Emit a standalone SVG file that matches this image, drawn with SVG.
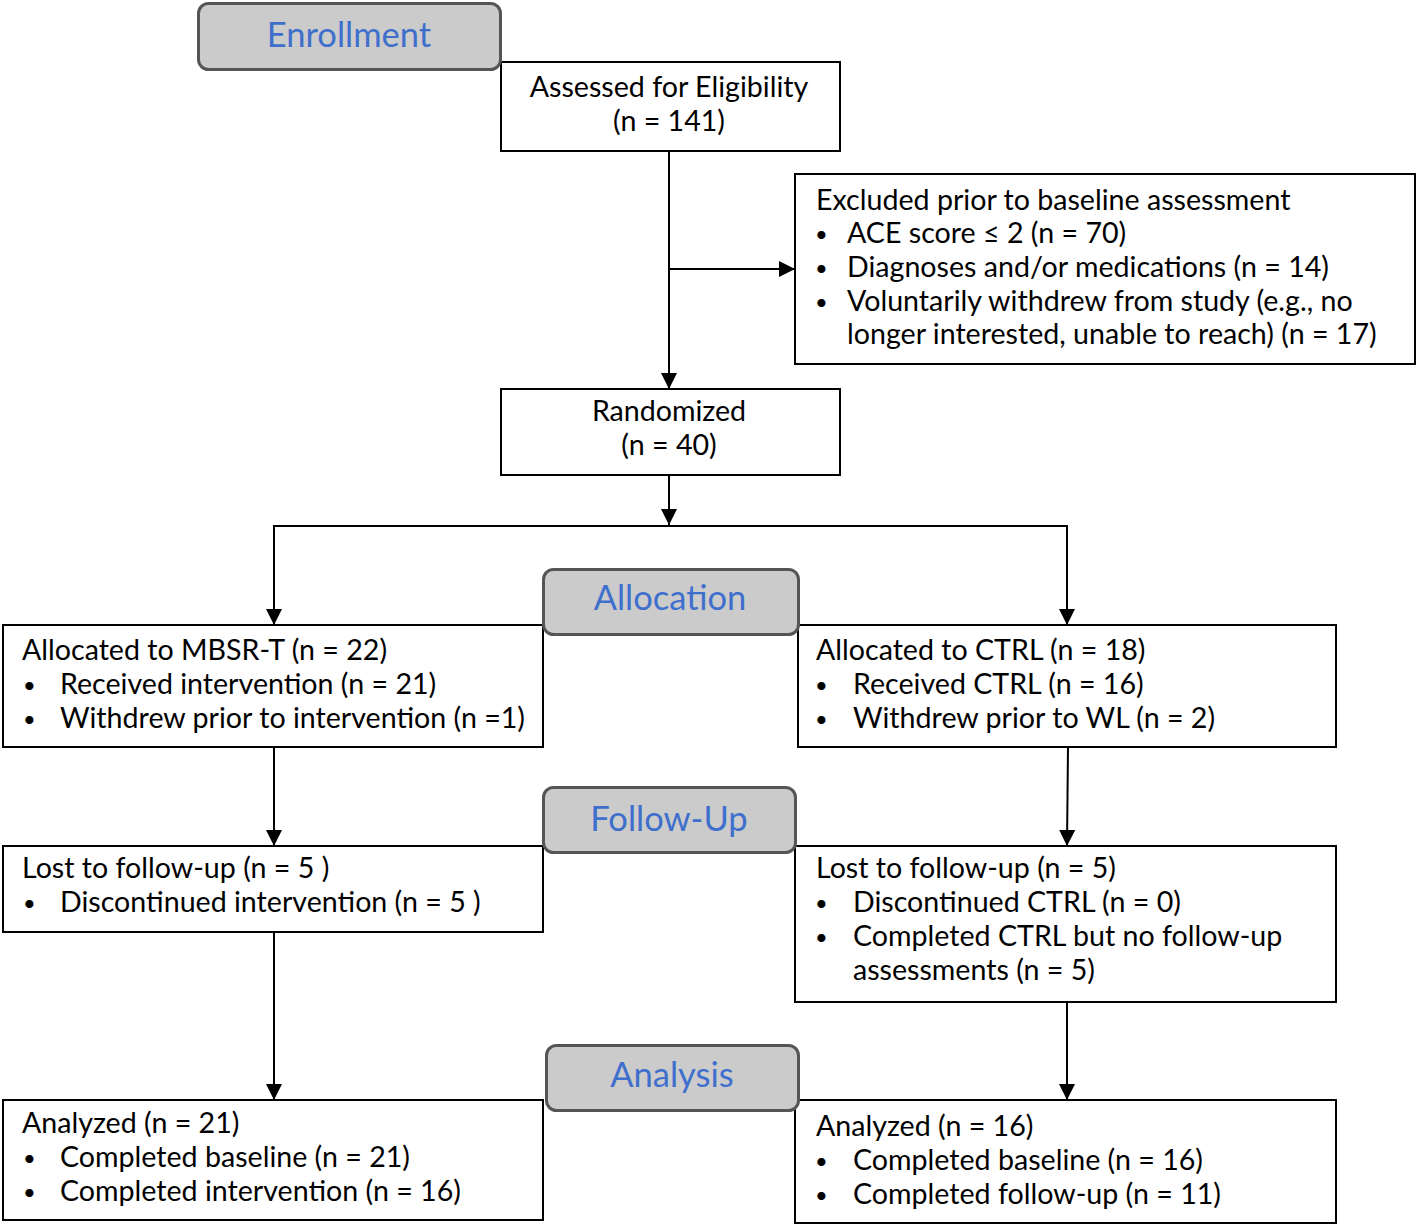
<svg xmlns="http://www.w3.org/2000/svg" width="1418" height="1227" viewBox="0 0 1418 1227">
<style>
.box{fill:#fff;stroke:#000;stroke-width:2}
.hdr{fill:#cbcbcb;stroke:#555;stroke-width:3}
.ht{font-family:Lato,"Noto Sans",sans-serif;font-size:34.5px;fill:#3f6fcd;text-anchor:middle}
.t{font-family:Lato,"Noto Sans",sans-serif;font-size:28.6px;fill:#000}
.b{font-family:Lato,"Noto Sans",sans-serif;font-size:22px;fill:#000}
.c{text-anchor:middle}
.ln{fill:none;stroke:#000;stroke-width:2}
</style>
<defs>
<marker id="ah2" markerWidth="16" markerHeight="16" refX="16" refY="8" orient="auto" markerUnits="userSpaceOnUse" viewBox="0 0 16 16">
<path d="M0,0 L16,8 L0,16 z" fill="#000"/>
</marker>
</defs>
<g id="connectors">
<line class="ln" x1="669" y1="151" x2="669" y2="389" marker-end="url(#ah2)"/>
<line class="ln" x1="669" y1="269" x2="795" y2="269" marker-end="url(#ah2)"/>
<line class="ln" x1="669" y1="475" x2="669" y2="525" marker-end="url(#ah2)"/>
<polyline class="ln" points="274,560 274,526 1067,526 1067,560"/>
<line class="ln" x1="274" y1="526" x2="274" y2="625" marker-end="url(#ah2)"/>
<line class="ln" x1="1067" y1="526" x2="1067" y2="625" marker-end="url(#ah2)"/>
<line class="ln" x1="274" y1="747" x2="274" y2="846" marker-end="url(#ah2)"/>
<line class="ln" x1="1068" y1="747" x2="1067" y2="846" marker-end="url(#ah2)"/>
<line class="ln" x1="274" y1="932" x2="274" y2="1100" marker-end="url(#ah2)"/>
<line class="ln" x1="1067" y1="1002" x2="1067" y2="1100" marker-end="url(#ah2)"/>
</g>
<g id="assessed">
<rect class="box" x="501" y="62" width="339" height="89"/>
<text class="t c" x="669" y="97">Assessed for Eligibility</text>
<text class="t c" x="669" y="131">(n = 141)</text>
</g>
<g id="enrollment">
<rect class="hdr" x="198.5" y="3.5" width="302" height="66" rx="10"/>
<text class="ht" x="349" y="47">Enrollment</text>
</g>
<g id="excluded">
<rect class="box" x="795" y="174" width="620" height="190"/>
<text class="t" x="816" y="210">Excluded prior to baseline assessment</text>
<text class="b" x="815" y="242">•</text><text class="t" x="847" y="243">ACE score ≤ 2 (n = 70)</text>
<text class="b" x="815" y="276">•</text><text class="t" x="847" y="277">Diagnoses and/or medications (n = 14)</text>
<text class="b" x="815" y="310">•</text><text class="t" x="847" y="311">Voluntarily withdrew from study (e.g., no</text>
<text class="t" x="847" y="344">longer interested, unable to reach) (n = 17)</text>
</g>
<g id="randomized">
<rect class="box" x="501" y="389" width="339" height="86"/>
<text class="t c" x="669" y="421">Randomized</text>
<text class="t c" x="669" y="455">(n = 40)</text>
</g>
<g id="alloc-left">
<rect class="box" x="3" y="625" width="540" height="122"/>
<text class="t" x="22" y="660">Allocated to MBSR-T (n = 22)</text>
<text class="b" x="23" y="693">•</text><text class="t" x="60" y="694">Received intervention (n = 21)</text>
<text class="b" x="23" y="727">•</text><text class="t" x="60" y="728">Withdrew prior to intervention (n =1)</text>
</g>
<g id="alloc-right">
<rect class="box" x="798" y="625" width="538" height="122"/>
<text class="t" x="816" y="660">Allocated to CTRL (n = 18)</text>
<text class="b" x="815" y="693">•</text><text class="t" x="853" y="694">Received CTRL (n = 16)</text>
<text class="b" x="815" y="727">•</text><text class="t" x="853" y="728">Withdrew prior to WL (n = 2)</text>
</g>
<g id="allocation">
<rect class="hdr" x="543.5" y="569.5" width="255" height="65" rx="10"/>
<text class="ht" x="670" y="610">Allocation</text>
</g>
<g id="fu-left">
<rect class="box" x="3" y="846" width="540" height="86"/>
<text class="t" x="22" y="878">Lost to follow-up (n = 5 )</text>
<text class="b" x="23" y="911">•</text><text class="t" x="60" y="912">Discontinued intervention (n = 5 )</text>
</g>
<g id="fu-right">
<rect class="box" x="795" y="846" width="541" height="156"/>
<text class="t" x="816" y="878">Lost to follow-up (n = 5)</text>
<text class="b" x="815" y="911">•</text><text class="t" x="853" y="912">Discontinued CTRL (n = 0)</text>
<text class="b" x="815" y="945">•</text><text class="t" x="853" y="946">Completed CTRL but no follow-up</text>
<text class="t" x="853" y="980">assessments (n = 5)</text>
</g>
<g id="followup">
<rect class="hdr" x="543.5" y="787.5" width="252" height="65" rx="10"/>
<text class="ht" x="669" y="831">Follow-Up</text>
</g>
<g id="an-left">
<rect class="box" x="3" y="1100" width="540" height="120"/>
<text class="t" x="22" y="1133">Analyzed (n = 21)</text>
<text class="b" x="23" y="1166">•</text><text class="t" x="60" y="1167">Completed baseline (n = 21)</text>
<text class="b" x="23" y="1200">•</text><text class="t" x="60" y="1201">Completed intervention (n = 16)</text>
</g>
<g id="an-right">
<rect class="box" x="795" y="1100" width="541" height="123"/>
<text class="t" x="816" y="1136">Analyzed (n = 16)</text>
<text class="b" x="815" y="1169">•</text><text class="t" x="853" y="1170">Completed baseline (n = 16)</text>
<text class="b" x="815" y="1203">•</text><text class="t" x="853" y="1204">Completed follow-up (n = 11)</text>
</g>
<g id="analysis">
<rect class="hdr" x="546.5" y="1045.5" width="252" height="65" rx="10"/>
<text class="ht" x="672" y="1087">Analysis</text>
</g>
</svg>
